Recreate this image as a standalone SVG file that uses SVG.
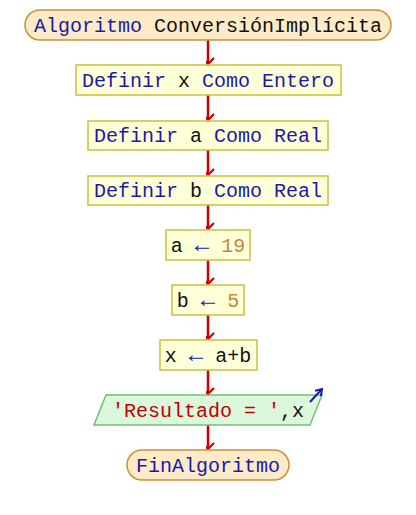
<svg xmlns="http://www.w3.org/2000/svg" width="416" height="515" viewBox="0 0 416 515">
<defs>
<style>
text{font-family:"Liberation Mono","DejaVu Sans Mono",monospace;font-size:20px;text-anchor:middle}
.term{fill:#fdebc8;stroke:#c89040;stroke-width:1.5}
.proc{fill:#ffffd8;stroke:#c8c040;stroke-width:1.5}
.io{fill:#dcf8dc;stroke:#70c070;stroke-width:1.5}
.kw{fill:#1a1aa8}
.id{fill:#111}
.num{fill:#c08840}
.str{fill:#c00000}
.op{fill:#1a1aa8;font-size:24px}
.flow{stroke:#cc0000;stroke-width:2.5;fill:none;marker-end:url(#ah)}
</style>
<marker id="ah" markerUnits="userSpaceOnUse" markerWidth="14" markerHeight="10" viewBox="-7 -8 14 10" refX="0" refY="0" orient="auto-start-reverse">
<path d="M-6,-6 L0,0 L6,-6" transform="rotate(-90)" fill="none" stroke="#cc0000" stroke-width="2.2"/>
</marker>
<marker id="oh" markerUnits="userSpaceOnUse" markerWidth="14" markerHeight="14" viewBox="-7 -7 14 14" refX="0" refY="0" orient="auto">
<path d="M-6,-4 L0,0 L-6,4" fill="none" stroke="#1a1aa8" stroke-width="2"/>
</marker>
</defs>
<g id="connectors">
<line class="flow" x1="208" y1="40" x2="208" y2="64"/>
<line class="flow" x1="208" y1="95" x2="208" y2="120"/>
<line class="flow" x1="208" y1="150" x2="208" y2="175"/>
<line class="flow" x1="208" y1="205" x2="208" y2="229"/>
<line class="flow" x1="208" y1="260" x2="208" y2="284"/>
<line class="flow" x1="208" y1="315" x2="208" y2="339"/>
<line class="flow" x1="208" y1="370" x2="208" y2="394"/>
<line class="flow" x1="208" y1="425" x2="208" y2="449"/>
</g>
<g id="start">
<rect class="term" x="25" y="10" width="366" height="30" rx="15" ry="15"/>
<text x="208" y="32"><tspan class="kw">Algoritmo</tspan> <tspan class="id">ConversiónImplícita</tspan></text>
</g>
<g id="defx">
<rect class="proc" x="76" y="65" width="265" height="30"/>
<text x="208" y="87"><tspan class="kw">Definir</tspan> <tspan class="id">x</tspan> <tspan class="kw">Como</tspan> <tspan class="kw">Entero</tspan></text>
</g>
<g id="defa">
<rect class="proc" x="88" y="121" width="240" height="29"/>
<text x="208" y="142"><tspan class="kw">Definir</tspan> <tspan class="id">a</tspan> <tspan class="kw">Como</tspan> <tspan class="kw">Real</tspan></text>
</g>
<g id="defb">
<rect class="proc" x="88" y="176" width="240" height="29"/>
<text x="208" y="197"><tspan class="kw">Definir</tspan> <tspan class="id">b</tspan> <tspan class="kw">Como</tspan> <tspan class="kw">Real</tspan></text>
</g>
<g id="asga">
<rect class="proc" x="166" y="230" width="84" height="30"/>
<text x="208" y="252"><tspan class="id">a</tspan> <tspan class="op">←</tspan> <tspan class="num">19</tspan></text>
</g>
<g id="asgb">
<rect class="proc" x="172" y="285" width="72" height="30"/>
<text x="208" y="307"><tspan class="id">b</tspan> <tspan class="op">←</tspan> <tspan class="num">5</tspan></text>
</g>
<g id="asgx">
<rect class="proc" x="160" y="340" width="97" height="30"/>
<text x="208" y="362"><tspan class="id">x</tspan> <tspan class="op">←</tspan> <tspan class="id">a+b</tspan></text>
</g>
<g id="out">
<polygon class="io" points="106,395 322,395 310,425 94,425"/>
<line x1="310" y1="402" x2="322" y2="389" stroke="#1a1aa8" stroke-width="2" marker-end="url(#oh)"/>
<text x="208" y="417"><tspan class="str">'Resultado = '</tspan><tspan class="id">,x</tspan></text>
</g>
<g id="end">
<rect class="term" x="127" y="450" width="162" height="30" rx="15" ry="15"/>
<text x="208" y="472" class="kw">FinAlgoritmo</text>
</g>
</svg>
